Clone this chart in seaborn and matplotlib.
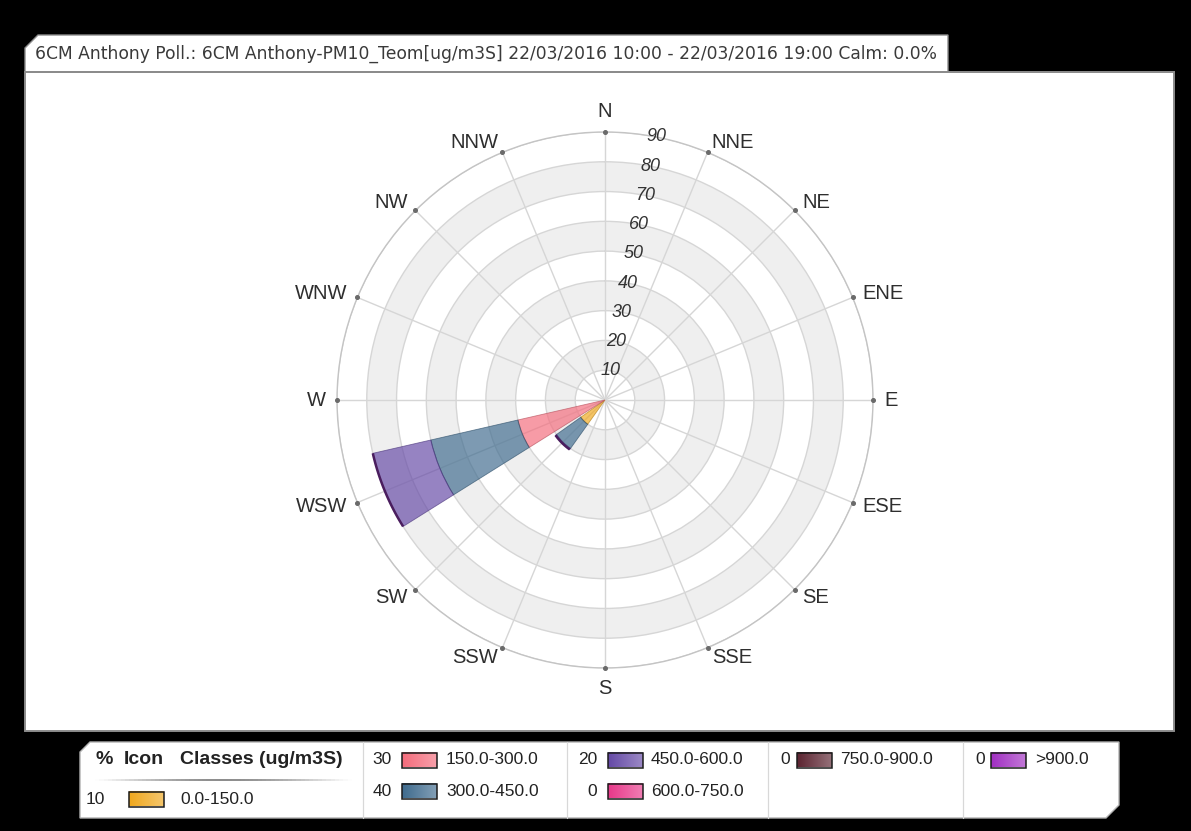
import numpy as np
import matplotlib
matplotlib.use("Agg")
import matplotlib.pyplot as plt
from matplotlib.patches import Polygon, Rectangle
from matplotlib.colors import to_rgb
import seaborn as sns

# ---- data -------------------------------------------------------------
directions = ["N", "NNE", "NE", "ENE", "E", "ESE", "SE", "SSE",
              "S", "SSW", "SW", "WSW", "W", "WNW", "NW", "NNW"]
class_labels = ["0.0-150.0", "150.0-300.0", "300.0-450.0", "450.0-600.0",
                "600.0-750.0", "750.0-900.0", ">900.0"]
class_pct = [10, 30, 40, 20, 0, 0, 0]
class_colors = ["#F0A81E", "#F46C7C", "#3F6B8E", "#6549A6",
                "#E8388A", "#5C2431", "#A12FC2"]

# frequency (%) per direction for each concentration class
f_0_150 = [0, 0, 0, 0, 0, 0, 0, 0, 0, 0, 10, 0, 0, 0, 0, 0]
f_150_300 = [0, 0, 0, 0, 0, 0, 0, 0, 0, 0, 0, 30, 0, 0, 0, 0]
f_300_450 = [0, 0, 0, 0, 0, 0, 0, 0, 0, 0, 10, 30, 0, 0, 0, 0]
f_450_600 = [0, 0, 0, 0, 0, 0, 0, 0, 0, 0, 0.4, 20, 0, 0, 0, 0]
f_600_750 = [0] * 16
f_750_900 = [0] * 16
f_900_up = [0] * 16
class_freqs = [f_0_150, f_150_300, f_300_450, f_450_600,
               f_600_750, f_750_900, f_900_up]

r_ticks = [10, 20, 30, 40, 50, 60, 70, 80, 90]
title = ("6CM Anthony Poll.: 6CM Anthony-PM10_Teom[ug/m3S] "
         "22/03/2016 10:00 - 22/03/2016 19:00 Calm: 0.0%")

# ---- style ------------------------------------------------------------
sns.set_theme(style="white")
plt.rcParams["font.family"] = ["Liberation Sans", "DejaVu Sans"]
palette = sns.color_palette(class_colors)

W, H = 1191, 831
fig = plt.figure(figsize=(W / 100, H / 100), dpi=100, facecolor="black")

# background canvas in pixel coordinates
bg = fig.add_axes([0, 0, 1, 1])
bg.set_axis_off()

panel = Rectangle((25, 72), 1149, 659, facecolor="white",
                  edgecolor="#8c8c8c", lw=1.4)
bg.add_patch(panel)
tab = Polygon([(25, 72), (25, 48), (38, 35), (948, 35), (948, 72)],
              closed=True, facecolor="white", edgecolor="#8c8c8c", lw=1.0)
bg.add_patch(tab)
bg.plot([25, 1174], [72, 72], color="#8c8c8c", lw=1.4)
t = bg.text(35, 54, title, ha="left", va="center", color="#3a3a3a",
            fontsize=10.5, family=["DejaVu Sans"])
# fit title to the tab width
fig.canvas.draw()
ext = t.get_window_extent()
t.set_fontsize(10.5 * 905 / ext.width)

# legend box
leg = Polygon([(80, 818), (80, 752), (90, 742), (1119, 742),
               (1119, 805), (1106, 818)],
              closed=True, facecolor="white", edgecolor="#b0b0b0", lw=1.0)
bg.add_patch(leg)
for xs in [363, 567, 768, 963]:
    bg.plot([xs, xs], [742, 818], color="#d8d8d8", lw=0.9)

# header underline with faded ends
nseg = 60
xs_line = np.linspace(95, 352, nseg + 1)
for i in range(nseg):
    a = np.sin(np.pi * (i + 0.5) / nseg) ** 1.2
    bg.plot(xs_line[i:i + 2], [780, 780], color="#777777", alpha=a,
            lw=1.2, solid_capstyle="butt")

lfs = 12.5
hfs = 14
txt_col = "#222222"
bg.text(95, 760, "%", ha="left", va="center", fontsize=hfs,
        color=txt_col, fontweight="bold")
bg.text(124, 760, "Icon", ha="left", va="center", fontsize=hfs,
        color=txt_col, fontweight="bold")
bg.text(180, 760, "Classes (ug/m3S)", ha="left", va="center",
        fontsize=hfs, color=txt_col, fontweight="bold")


def swatch(x0, yc, color, w=35, h=15):
    base = np.array(to_rgb(color))
    light = base + (1 - base) * 0.35
    grad = np.linspace(0, 1, 40)[None, :, None]
    img = base[None, None, :] * (1 - grad) + light[None, None, :] * grad
    bg.imshow(img, extent=(x0, x0 + w, yc + h / 2, yc - h / 2),
              aspect="auto", interpolation="bilinear", zorder=3)
    bg.add_patch(Rectangle((x0, yc - h / 2), w, h, fill=False,
                           edgecolor="#1a1a1a", lw=1.1, zorder=4))


# (number right edge, swatch x, label x, y) for each class entry
leg_num_x = [105, 392, 392, 597, 597, 790, 985]
leg_sw_x = [129, 402, 402, 608, 608, 797, 991]
leg_lab_x = [180, 446, 446, 651, 651, 840, 1035]
leg_y = [799, 760, 791, 760, 791, 760, 760]
for i, lab in enumerate(class_labels):
    bg.text(leg_num_x[i], leg_y[i], str(class_pct[i]), ha="right",
            va="center", fontsize=lfs, color=txt_col)
    swatch(leg_sw_x[i], leg_y[i], palette[i])
    bg.text(leg_lab_x[i], leg_y[i], lab, ha="left", va="center",
            fontsize=lfs, color=txt_col)

bg.set_xlim(0, W)
bg.set_ylim(H, 0)

# ---- wind rose ---------------------------------------------------------
cx, cy, R = 605, 400, 268
ax = fig.add_axes([(cx - R) / W, (H - cy - R) / H, 2 * R / W, 2 * R / H],
                  projection="polar")
ax.set_facecolor("none")
ax.set_theta_zero_location("N")
ax.set_theta_direction(-1)
rmax = r_ticks[-1]
ax.set_ylim(0, rmax)

theta = np.deg2rad(np.arange(16) * 22.5)
ax.set_xticks(theta)
ax.set_xticklabels([])
ax.set_yticks(r_ticks)
ax.set_yticklabels([])
ax.grid(True, color="#d6d6d6", lw=1.0)
ax.spines["polar"].set_color("#c4c4c4")
ax.spines["polar"].set_linewidth(1.0)
ax.tick_params(length=0)

# alternating shaded rings
for lo in [10, 30, 50, 70]:
    ax.bar(0, 10, width=2 * np.pi, bottom=lo, color="#efefef",
           lw=0, zorder=0.5)

# stacked bars
width = np.deg2rad(22.5 * 0.85)
bottom = np.zeros(16)
for i, vals in enumerate(class_freqs):
    vals = np.asarray(vals, dtype=float)
    m = vals > 0
    if m.any():
        edge = tuple(np.array(to_rgb(palette[i])) * 0.75)
        ax.bar(theta[m], vals[m], width=width, bottom=bottom[m],
               color=palette[i], alpha=0.68, edgecolor=edge, lw=0.6,
               zorder=2)
    bottom += vals

# darker outer rim on each bar
for th, tot in zip(theta, bottom):
    if tot > 0:
        arc = np.linspace(th - width / 2, th + width / 2, 30)
        ax.plot(arc, np.full_like(arc, tot), color="#4a1d5e", lw=1.8,
                zorder=3, solid_capstyle="butt")

# small markers on the outer ring
ax.plot(theta, np.full(16, rmax), ls="", marker="o", ms=2.6,
        color="#6a6a6a", zorder=4, clip_on=False)

# direction labels
r_lab = rmax * 279 / 268
for th, d in zip(theta, directions):
    s, c = np.sin(th), np.cos(th)
    ha = "left" if s > 0.3 else ("right" if s < -0.3 else "center")
    va = "bottom" if c > 0.95 else ("top" if c < -0.95 else "center")
    ax.text(th, r_lab, d, ha=ha, va=va, fontsize=14.5, color="#2e2e2e")

# radial value labels
for r in r_ticks:
    ax.text(np.deg2rad(11), r, str(r), ha="center", va="center",
            fontsize=13, style="italic", color="#333333", zorder=5)

fig.savefig("out.png", dpi=100, facecolor="black")
